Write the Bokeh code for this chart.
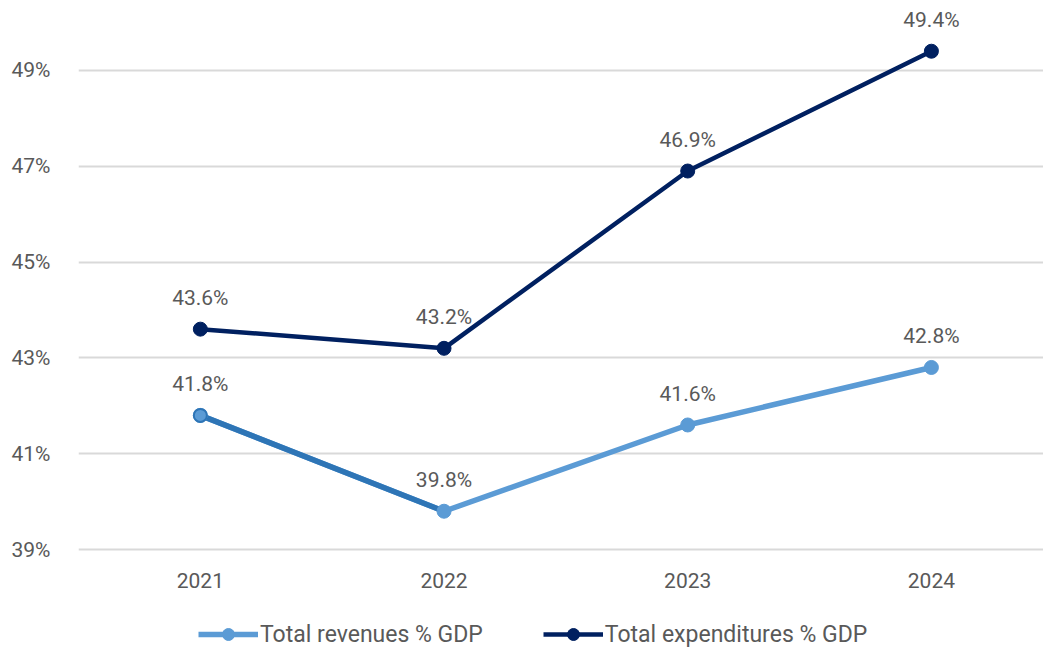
from bokeh.plotting import figure
from bokeh.models import FixedTicker, PrintfTickFormatter, Legend, LegendItem, Range1d, ColumnDataSource
from bokeh.embed import file_html
from bokeh.resources import INLINE
from bokeh.core.properties import value

years = ["2021", "2022", "2023", "2024"]
revenues = [41.8, 39.8, 41.6, 42.8]
expenditures = [43.6, 43.2, 46.9, 49.4]
y_ticks = [39, 41, 43, 45, 47, 49]
series_names = ["Total revenues % GDP", "Total expenditures % GDP"]

REV = "#5B9BD5"
REV_DARK = "#2E75B6"
EXP = "#002060"
TXT = "#595959"
FONT = "Roboto"

xs = list(range(len(years)))

p = figure(frame_width=965, frame_height=637, output_backend="svg", toolbar_location=None,
           x_range=Range1d(-0.5, 3.46), y_range=Range1d(36.956, 50.25),
           min_border_left=78, min_border_right=0, min_border_top=10, min_border_bottom=0)
p.outline_line_color = None
p.background_fill_color = "white"
p.border_fill_color = "white"

p.xaxis.visible = False
p.yaxis.ticker = FixedTicker(ticks=y_ticks)
p.yaxis.formatter = PrintfTickFormatter(format="%d%%")
p.yaxis.axis_line_color = None
p.yaxis.major_tick_line_color = None
p.yaxis.minor_tick_line_color = None
p.yaxis.major_label_text_font = FONT
p.yaxis.major_label_text_font_size = "21px"
p.yaxis.major_label_text_color = TXT
p.yaxis.major_label_standoff = 22
p.xgrid.grid_line_color = None
p.ygrid.grid_line_color = "#d9d9d9"
p.ygrid.grid_line_width = 2

# category labels under the baseline gridline
p.text(xs, [y_ticks[0]] * len(xs), text=years, y_offset=31, text_align="center",
       text_baseline="middle", text_font=value(FONT), text_font_size="21px",
       text_color=TXT)

src_rev = ColumnDataSource(dict(x=xs, y=revenues, lab=["%.1f%%" % v for v in revenues]))
src_exp = ColumnDataSource(dict(x=xs, y=expenditures, lab=["%.1f%%" % v for v in expenditures]))

l_rev = p.line("x", "y", source=src_rev, line_color=REV, line_width=5.5)
p.line(xs[0:2], revenues[0:2], line_color=REV_DARK, line_width=5.5)
c_rev = p.scatter("x", "y", source=src_rev, size=14, fill_color=REV, line_color=REV)
p.scatter(xs[0:1], revenues[0:1], size=13, fill_color=REV, line_color=REV_DARK, line_width=2)

l_exp = p.line("x", "y", source=src_exp, line_color=EXP, line_width=4.5)
c_exp = p.scatter("x", "y", source=src_exp, size=14, fill_color=EXP, line_color=EXP)

for src in (src_rev, src_exp):
    p.text("x", "y", text="lab", source=src, y_offset=-31, text_align="center",
           text_baseline="middle", text_font=value(FONT), text_font_size="21px",
           text_color=TXT)

legend = Legend(items=[LegendItem(label=series_names[0], renderers=[l_rev, c_rev]),
                       LegendItem(label=series_names[1], renderers=[l_exp, c_exp])],
                orientation="horizontal", location=(120, -2))
legend.glyph_width = 60
legend.glyph_height = 30
legend.label_standoff = 2
legend.spacing = 60
legend.border_line_color = None
legend.background_fill_alpha = 0
legend.label_text_font = FONT
legend.label_text_font_size = "23px"
legend.label_text_color = TXT
legend.margin = 0
legend.padding = 0
p.add_layout(legend)

open("out.html", "w").write(file_html(p, INLINE))
